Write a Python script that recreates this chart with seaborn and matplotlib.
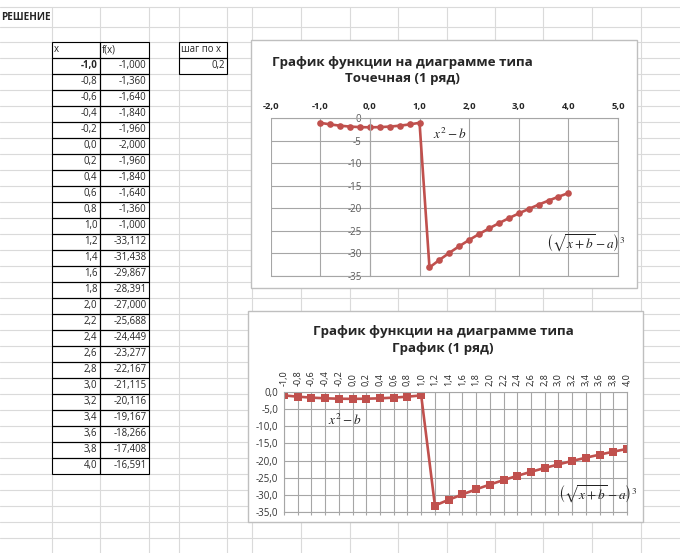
import matplotlib
matplotlib.use("Agg")
import matplotlib.pyplot as plt
from matplotlib.patches import Rectangle
from matplotlib.ticker import FuncFormatter, MultipleLocator
import seaborn as sns

# table data read from the sheet
x_values = [-1.0, -0.8, -0.6, -0.4, -0.2, 0.0, 0.2, 0.4, 0.6, 0.8, 1.0,
            1.2, 1.4, 1.6, 1.8, 2.0, 2.2, 2.4, 2.6, 2.8, 3.0,
            3.2, 3.4, 3.6, 3.8, 4.0]
f_values = [-1.000, -1.360, -1.640, -1.840, -1.960, -2.000, -1.960, -1.840, -1.640, -1.360, -1.000,
            -33.112, -31.438, -29.867, -28.391, -27.000, -25.688, -24.449, -23.277, -22.167, -21.115,
            -20.116, -19.167, -18.266, -17.408, -16.591]
step_x = 0.2

sheet_title = "РЕШЕНИЕ"
col_headers = ["x", "f(x)"]
step_label = "шаг по x"
title_scatter = "График функции на диаграмме типа\nТочечная (1 ряд)"
title_line = "График функции на диаграмме типа\nГрафик (1 ряд)"
label_parabola = r"$x^2 - b$"
label_root = r"$\left(\sqrt{x+b} - a\right)^3$"

red = "#C0504D"
chart_grid = "#A6A6A6"
sheet_grid = "#DADADA"

sns.set_style("white")
plt.rcParams['font.family'] = ['Open Sans', 'DejaVu Sans']
plt.rcParams['axes.unicode_minus'] = False
plt.rcParams['mathtext.fontset'] = 'stix'


def comma(v, digits):
    return f"{v + 0:.{digits}f}".replace('.', ',')


W, H = 680, 553
fig = plt.figure(figsize=(W / 100, H / 100), dpi=100)

# spreadsheet background, in pixel coordinates
bg = fig.add_axes([0, 0, 1, 1])
bg.set_xlim(0, W)
bg.set_ylim(H, 0)
bg.axis('off')

col_edges = [52, 100, 149, 179, 227, 251.5, 300.5, 349.5, 398, 447, 495, 543, 592, 640.5]
for cx in col_edges:
    bg.plot([cx, cx], [7, H], color=sheet_grid, lw=0.8, zorder=0)
top, rh = 41.7, 16.0
for ry in [7, 26.7] + [top + rh * k for k in range(33)]:
    bg.plot([0, W], [ry, ry], color=sheet_grid, lw=0.8, zorder=0)

bg.text(1, 18, sheet_title, ha='left', va='center', fontsize=7.2, weight='bold')

# table x / f(x)
cell_fs = 6.9
bg.add_patch(Rectangle((52, top), 48, rh, fill=False, ec='black', lw=0.8, zorder=2))
bg.add_patch(Rectangle((100, top), 49, rh, fill=False, ec='black', lw=0.8, zorder=2))
bg.text(54, top + rh / 2, col_headers[0], ha='left', va='center', fontsize=cell_fs)
bg.text(102, top + rh / 2, col_headers[1], ha='left', va='center', fontsize=cell_fs)
for i, (xv, fv) in enumerate(zip(x_values, f_values)):
    y0 = top + (i + 1) * rh
    bg.add_patch(Rectangle((52, y0), 48, rh, fill=False, ec='black', lw=0.8, zorder=2))
    bg.add_patch(Rectangle((100, y0), 49, rh, fill=False, ec='black', lw=0.8, zorder=2))
    bg.text(97.5, y0 + rh / 2, comma(xv, 1), ha='right', va='center', fontsize=cell_fs,
            weight='bold' if i == 0 else 'normal')
    bg.text(146.5, y0 + rh / 2, comma(fv, 3), ha='right', va='center', fontsize=cell_fs)

bg.add_patch(Rectangle((179, top), 48, rh, fill=False, ec='black', lw=0.8, zorder=2))
bg.add_patch(Rectangle((179, top + rh), 48, rh, fill=False, ec='black', lw=0.8, zorder=2))
bg.text(181, top + rh / 2, step_label, ha='left', va='center', fontsize=cell_fs)
bg.text(224.5, top + rh * 1.5, comma(step_x, 1), ha='right', va='center', fontsize=cell_fs)

# chart frames
bg.add_patch(Rectangle((251, 40), 386, 248, fc='white', ec='#BFBFBF', lw=1, zorder=3))
bg.add_patch(Rectangle((248, 311), 395, 211, fc='white', ec='#BFBFBF', lw=1, zorder=3))
bg.text(402, 70.5, title_scatter, ha='center', va='center', fontsize=9.6, weight='bold',
        linespacing=1.35, zorder=4)
bg.text(443, 340, title_line, ha='center', va='center', fontsize=9.6, weight='bold',
        linespacing=1.35, zorder=4)


def px_axes(l, t, r, b):
    return fig.add_axes([l / W, 1 - b / H, (r - l) / W, (b - t) / H])


# chart 1: scatter with lines
ax1 = px_axes(270.7, 118.3, 618, 276)
ax1.set_facecolor('none')
sns.lineplot(x=x_values, y=f_values, ax=ax1, sort=False, estimator=None, color=red,
             linewidth=1.9, marker='o', markersize=4.8, markeredgewidth=0)
ax1.set_xlim(-2, 5)
ax1.set_ylim(-35, 0)
ax1.xaxis.set_major_locator(MultipleLocator(1))
ax1.yaxis.set_major_locator(MultipleLocator(5))
ax1.xaxis.set_major_formatter(FuncFormatter(lambda v, p: comma(v, 1)))
ax1.yaxis.set_major_formatter(FuncFormatter(lambda v, p: comma(v, 0)))
ax1.xaxis.tick_top()
ax1.spines['left'].set_position(('data', 0))
for s in ax1.spines.values():
    s.set_color(chart_grid)
    s.set_linewidth(0.8)
ax1.grid(True, color=chart_grid, lw=0.8)
ax1.tick_params(length=0)
ax1.tick_params(axis='x', pad=5, labelsize=6.8)
ax1.tick_params(axis='y', pad=6, labelsize=7, labelcolor='#595959')
for t in ax1.get_xticklabels():
    t.set_fontweight('bold')
ax1.text(1.28, -3.6, label_parabola, ha='left', va='center', fontsize=9.5, color='#222222')
ax1.text(3.55, -27.7, label_root, ha='left', va='center', fontsize=9.5, color='#222222')

# chart 2: line chart over categories
ax2 = px_axes(284, 392, 627, 512)
ax2.set_facecolor('none')
x_labels = [comma(v, 1) for v in x_values]
sns.pointplot(x=x_labels, y=f_values, ax=ax2, color=red, markers='s', markersize=5.4,
              markeredgewidth=0, linewidth=1.9, errorbar=None)
ax2.set_xlim(0, len(x_labels) - 1)
ax2.set_ylim(-35, 0)
ax2.yaxis.set_major_locator(MultipleLocator(5))
ax2.yaxis.set_major_formatter(FuncFormatter(lambda v, p: comma(v, 1)))
ax2.grid(True, color=chart_grid, lw=0.8)
ax2.set_axisbelow(True)
for s in ax2.spines.values():
    s.set_color(chart_grid)
    s.set_linewidth(0.8)
ax2.set_xlabel("")
ax2.set_ylabel("")
ax2.tick_params(axis='x', top=False, labeltop=True, bottom=True, labelbottom=False,
                direction='out', length=2.5, color=chart_grid, labelrotation=90,
                labelsize=6.6, pad=2)
ax2.tick_params(axis='y', length=0, pad=4, labelsize=7, labelcolor='#333333')
ax2.text(3.2, -8.2, label_parabola, ha='left', va='center', fontsize=9.5, color='#222222')
ax2.text(20.0, -29.5, label_root, ha='left', va='center', fontsize=9.5, color='#222222')

fig.savefig("out.png", dpi=100)
